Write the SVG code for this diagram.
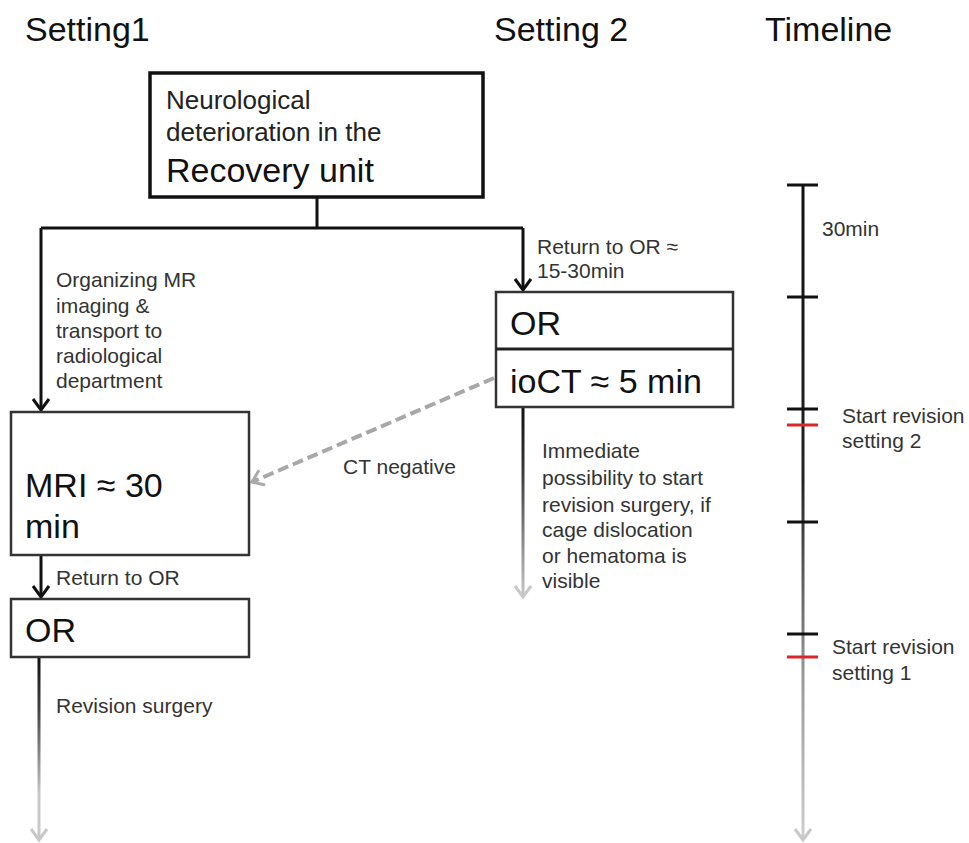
<svg xmlns="http://www.w3.org/2000/svg" width="969" height="843" viewBox="0 0 969 843">
<defs>
<style>
.title{font-family:"Liberation Sans",Arial,sans-serif;font-size:34px;fill:#111}
.big{font-family:"Liberation Sans",Arial,sans-serif;font-size:34px;fill:#111}
.mid{font-family:"Liberation Sans",Arial,sans-serif;font-size:26px;fill:#222}
.lbl{font-family:"Liberation Sans",Arial,sans-serif;font-size:21px;fill:#333}
.box{fill:#fff;stroke:#333;stroke-width:2.5}
.boxb{fill:#fff;stroke:#111;stroke-width:3.5}
.con{fill:none;stroke:#111;stroke-width:3}
.tick{stroke:#111;stroke-width:3}
.rtick{stroke:#d9262b;stroke-width:3}
</style>
<marker id="ah" markerWidth="20" markerHeight="20" refX="13" refY="9" orient="auto" markerUnits="userSpaceOnUse"><path d="M2,1 L13,9 L2,17" fill="none" stroke="#111" stroke-width="3"/></marker>
<marker id="ahg" markerWidth="20" markerHeight="20" refX="13" refY="9" orient="auto" markerUnits="userSpaceOnUse"><path d="M2,1 L13,9 L2,17" fill="none" stroke="#c8c8c8" stroke-width="3"/></marker>
<marker id="ahd" markerWidth="20" markerHeight="20" refX="13" refY="9" orient="auto" markerUnits="userSpaceOnUse"><path d="M2,1 L13,9 L2,17" fill="none" stroke="#aaa" stroke-width="3"/></marker>
<linearGradient id="gMid" gradientUnits="userSpaceOnUse" x1="0" y1="407" x2="0" y2="597"><stop offset="0" stop-color="#111"/><stop offset="0.3" stop-color="#333"/><stop offset="1" stop-color="#c8c8c8"/></linearGradient>
<linearGradient id="gLeft" gradientUnits="userSpaceOnUse" x1="0" y1="657" x2="0" y2="840"><stop offset="0" stop-color="#111"/><stop offset="0.3" stop-color="#444"/><stop offset="0.75" stop-color="#c8c8c8"/><stop offset="1" stop-color="#c8c8c8"/></linearGradient>
<linearGradient id="gTime" gradientUnits="userSpaceOnUse" x1="0" y1="185" x2="0" y2="840"><stop offset="0" stop-color="#111"/><stop offset="0.45" stop-color="#222"/><stop offset="0.75" stop-color="#999"/><stop offset="1" stop-color="#cfcfcf"/></linearGradient>
</defs>
<rect width="969" height="843" fill="#fff"/>

<g id="titles">
<text class="title" x="25" y="41">Setting1</text>
<text class="title" x="494" y="41">Setting 2</text>
<text class="title" x="765" y="41">Timeline</text>
</g>

<g id="connectors">
<path class="con" d="M317,197 V228 M41,228 H523"/>
<path class="con" d="M41,228 V410" marker-end="url(#ah)"/>
<path class="con" d="M523,228 V290" marker-end="url(#ah)"/>
<path class="con" d="M41,555 V597" marker-end="url(#ah)"/>
<path fill="none" stroke="url(#gMid)" stroke-width="3" d="M523,407 V597" marker-end="url(#ahg)"/>
<path fill="none" stroke="url(#gLeft)" stroke-width="3" d="M39,657 V840" marker-end="url(#ahg)"/>
<path fill="none" stroke="#a8a8a8" stroke-width="4" stroke-dasharray="11,5" d="M494,378 L252,482" marker-end="url(#ahd)"/>
<text class="lbl" x="56"><tspan x="56" y="287">Organizing MR</tspan><tspan x="56" y="313">imaging &amp;</tspan><tspan x="56" y="338">transport to</tspan><tspan x="56" y="363">radiological</tspan><tspan x="56" y="388">department</tspan></text>
<text class="lbl"><tspan x="537" y="254">Return to OR ≈</tspan><tspan x="537" y="278">15-30min</tspan></text>
<text class="lbl"><tspan x="542" y="458">Immediate</tspan><tspan x="542" y="485">possibility to start</tspan><tspan x="542" y="512">revision surgery, if</tspan><tspan x="542" y="537">cage dislocation</tspan><tspan x="542" y="563">or hematoma is</tspan><tspan x="542" y="588">visible</tspan></text>
<text class="lbl" x="343" y="474">CT negative</text>
<text class="lbl" x="56" y="585">Return to OR</text>
<text class="lbl" x="56" y="713">Revision surgery</text>
</g>

<g id="node-recovery">
<rect class="boxb" x="150" y="73" width="333" height="124"/>
<text class="mid" x="166" y="109">Neurological</text>
<text class="mid" x="166" y="141">deterioration in the</text>
<text class="big" x="166" y="182">Recovery unit</text>
</g>

<g id="node-or-ioct">
<rect class="box" x="496" y="292" width="237" height="115"/>
<line x1="496" y1="349" x2="733" y2="349" stroke="#222" stroke-width="3"/>
<text class="big" x="510" y="335">OR</text>
<text class="big" x="510" y="393">ioCT ≈ 5 min</text>
</g>

<g id="node-mri">
<rect class="box" x="11" y="412" width="238" height="143"/>
<text class="big" x="25" y="497">MRI ≈ 30</text>
<text class="big" x="25" y="538">min</text>
</g>

<g id="node-or">
<rect class="box" x="11" y="599" width="238" height="58"/>
<text class="big" x="25" y="642">OR</text>
</g>

<g id="timeline">
<path fill="none" stroke="url(#gTime)" stroke-width="3" d="M803,185 V840" marker-end="url(#ahg)"/>
<line class="tick" x1="787" y1="185" x2="818" y2="185"/>
<line class="tick" x1="787" y1="297" x2="818" y2="297"/>
<line class="tick" x1="787" y1="409" x2="818" y2="409"/>
<line class="rtick" x1="787" y1="425" x2="818" y2="425"/>
<line class="tick" x1="787" y1="522" x2="818" y2="522"/>
<line class="tick" x1="787" y1="634" x2="818" y2="634"/>
<line class="rtick" x1="787" y1="657" x2="818" y2="657"/>
<text class="lbl" x="822" y="236">30min</text>
<text class="lbl"><tspan x="842" y="423">Start revision</tspan><tspan x="842" y="448">setting 2</tspan></text>
<text class="lbl"><tspan x="832" y="654">Start revision</tspan><tspan x="832" y="680">setting 1</tspan></text>
</g>
</svg>
